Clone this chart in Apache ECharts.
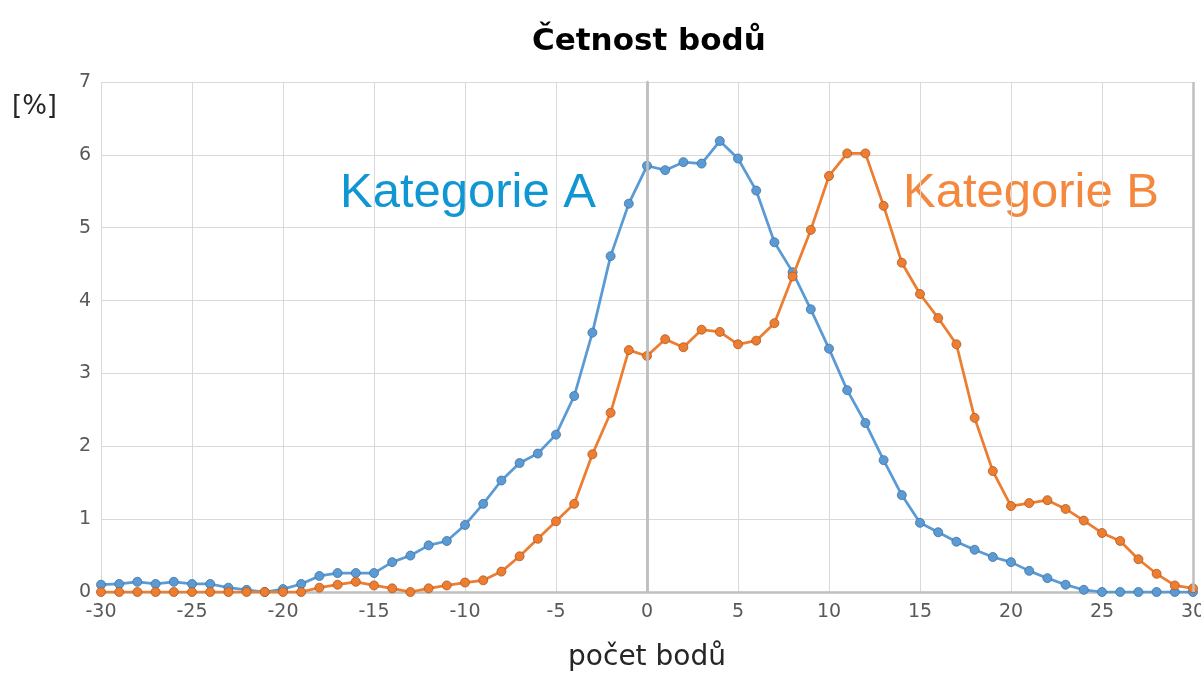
<!DOCTYPE html>
<html>
<head>
<meta charset="utf-8">
<script src="https://cdn.jsdelivr.net/npm/echarts@6/dist/echarts.min.js"></script>
<style>
html,body{margin:0;padding:0;background:#fff;}
#chart{width:1201px;height:673px;}
</style>
</head>
<body>
<div id="chart"></div>
<script>
const xValues = [-30,-29,-28,-27,-26,-25,-24,-23,-22,-21,-20,-19,-18,-17,-16,-15,-14,-13,-12,-11,-10,-9,-8,-7,-6,-5,-4,-3,-2,-1,0,1,2,3,4,5,6,7,8,9,10,11,12,13,14,15,16,17,18,19,20,21,22,23,24,25,26,27,28,29,30];
const kategorieA = [0.10,0.11,0.14,0.11,0.14,0.11,0.11,0.06,0.03,0.00,0.04,0.11,0.22,0.26,0.26,0.26,0.41,0.50,0.64,0.70,0.92,1.21,1.53,1.77,1.90,2.16,2.69,3.56,4.61,5.33,5.85,5.79,5.90,5.88,6.19,5.95,5.51,4.80,4.39,3.88,3.34,2.77,2.32,1.81,1.33,0.95,0.82,0.69,0.58,0.48,0.41,0.29,0.19,0.10,0.03,0.00,0.00,0.00,0.00,0.00,0.00];
const kategorieB = [0,0,0,0,0,0,0,0,0,0,0,0,0.06,0.10,0.14,0.09,0.05,0.00,0.05,0.09,0.13,0.16,0.28,0.49,0.73,0.97,1.21,1.89,2.46,3.32,3.24,3.47,3.36,3.60,3.57,3.40,3.45,3.69,4.33,4.97,5.71,6.02,6.02,5.30,4.52,4.09,3.76,3.40,2.39,1.66,1.18,1.22,1.26,1.14,0.98,0.81,0.70,0.45,0.25,0.09,0.05];
const seriesNames = ['Kategorie A','Kategorie B'];
const titleText = 'Četnost bodů';
const xAxisName = 'počet bodů';
const yAxisName = '[%]';

const pairs = (vals) => xValues.map((x, i) => [x, vals[i]]);

const chart = echarts.init(document.getElementById('chart'), null, {renderer: 'canvas'});
chart.setOption({
  animation: false,
  backgroundColor: '#ffffff',
  title: {
    text: titleText,
    left: 527,
    top: 21,
    textStyle: {fontFamily: 'DejaVu Sans', fontWeight: 'bold', fontSize: 31, color: '#000000'}
  },
  grid: {left: 101, right: 8, top: 82, bottom: 81, containLabel: false, outerBoundsMode: 'none'},
  xAxis: {
    type: 'value',
    min: -30, max: 30, interval: 5,
    name: xAxisName,
    nameLocation: 'middle',
    nameGap: 52,
    nameTextStyle: {fontFamily: 'DejaVu Sans', fontSize: 28, color: '#262626'},
    axisLine: {show: true, onZero: true, lineStyle: {color: '#bfbfbf', width: 2.5}},
    axisTick: {show: false},
    axisLabel: {fontFamily: 'DejaVu Sans', fontSize: 19, color: '#595959', margin: 11, hideOverlap: false},
    splitLine: {show: true, lineStyle: {color: '#d9d9d9', width: 1}}
  },
  yAxis: {
    type: 'value',
    min: 0, max: 7, interval: 1,
    axisLine: {show: true, lineStyle: {color: '#bfbfbf', width: 2.5}},
    axisTick: {show: false},
    axisLabel: {fontFamily: 'DejaVu Sans', fontSize: 19, color: '#595959', margin: 10},
    splitLine: {show: true, lineStyle: {color: '#d9d9d9', width: 1}}
  },
  graphic: [
    {type: 'text', left: 12, top: 94, style: {text: yAxisName, font: '26px "DejaVu Sans"', fill: '#262626'}},
    {type: 'text', x: 340, y: 193, style: {text: seriesNames[0], font: '49px "Liberation Sans"', fill: '#1096d3', textVerticalAlign: 'middle'}},
    {type: 'text', x: 903, y: 193, style: {text: seriesNames[1], font: '49px "Liberation Sans"', fill: '#f5883f', textVerticalAlign: 'middle'}}
  ],
  series: [
    {
      name: seriesNames[0],
      type: 'line',
      data: pairs(kategorieA),
      symbol: 'circle',
      symbolSize: 9,
      lineStyle: {color: '#5b9bd5', width: 2.75},
      itemStyle: {color: '#5b9bd5', borderColor: '#41719c', borderWidth: 0.8},
      markLine: {
        silent: true, symbol: 'none', label: {show: false},
        lineStyle: {color: '#bfbfbf', width: 2.5, type: 'solid'},
        data: [{xAxis: 0}, {xAxis: 30}]
      },
      z: 3
    },
    {
      name: seriesNames[1],
      type: 'line',
      data: pairs(kategorieB),
      symbol: 'circle',
      symbolSize: 9,
      lineStyle: {color: '#ed7d31', width: 2.75},
      itemStyle: {color: '#ed7d31', borderColor: '#ae5a21', borderWidth: 0.8},
      z: 4
    }
  ]
});
</script>
</body>
</html>
